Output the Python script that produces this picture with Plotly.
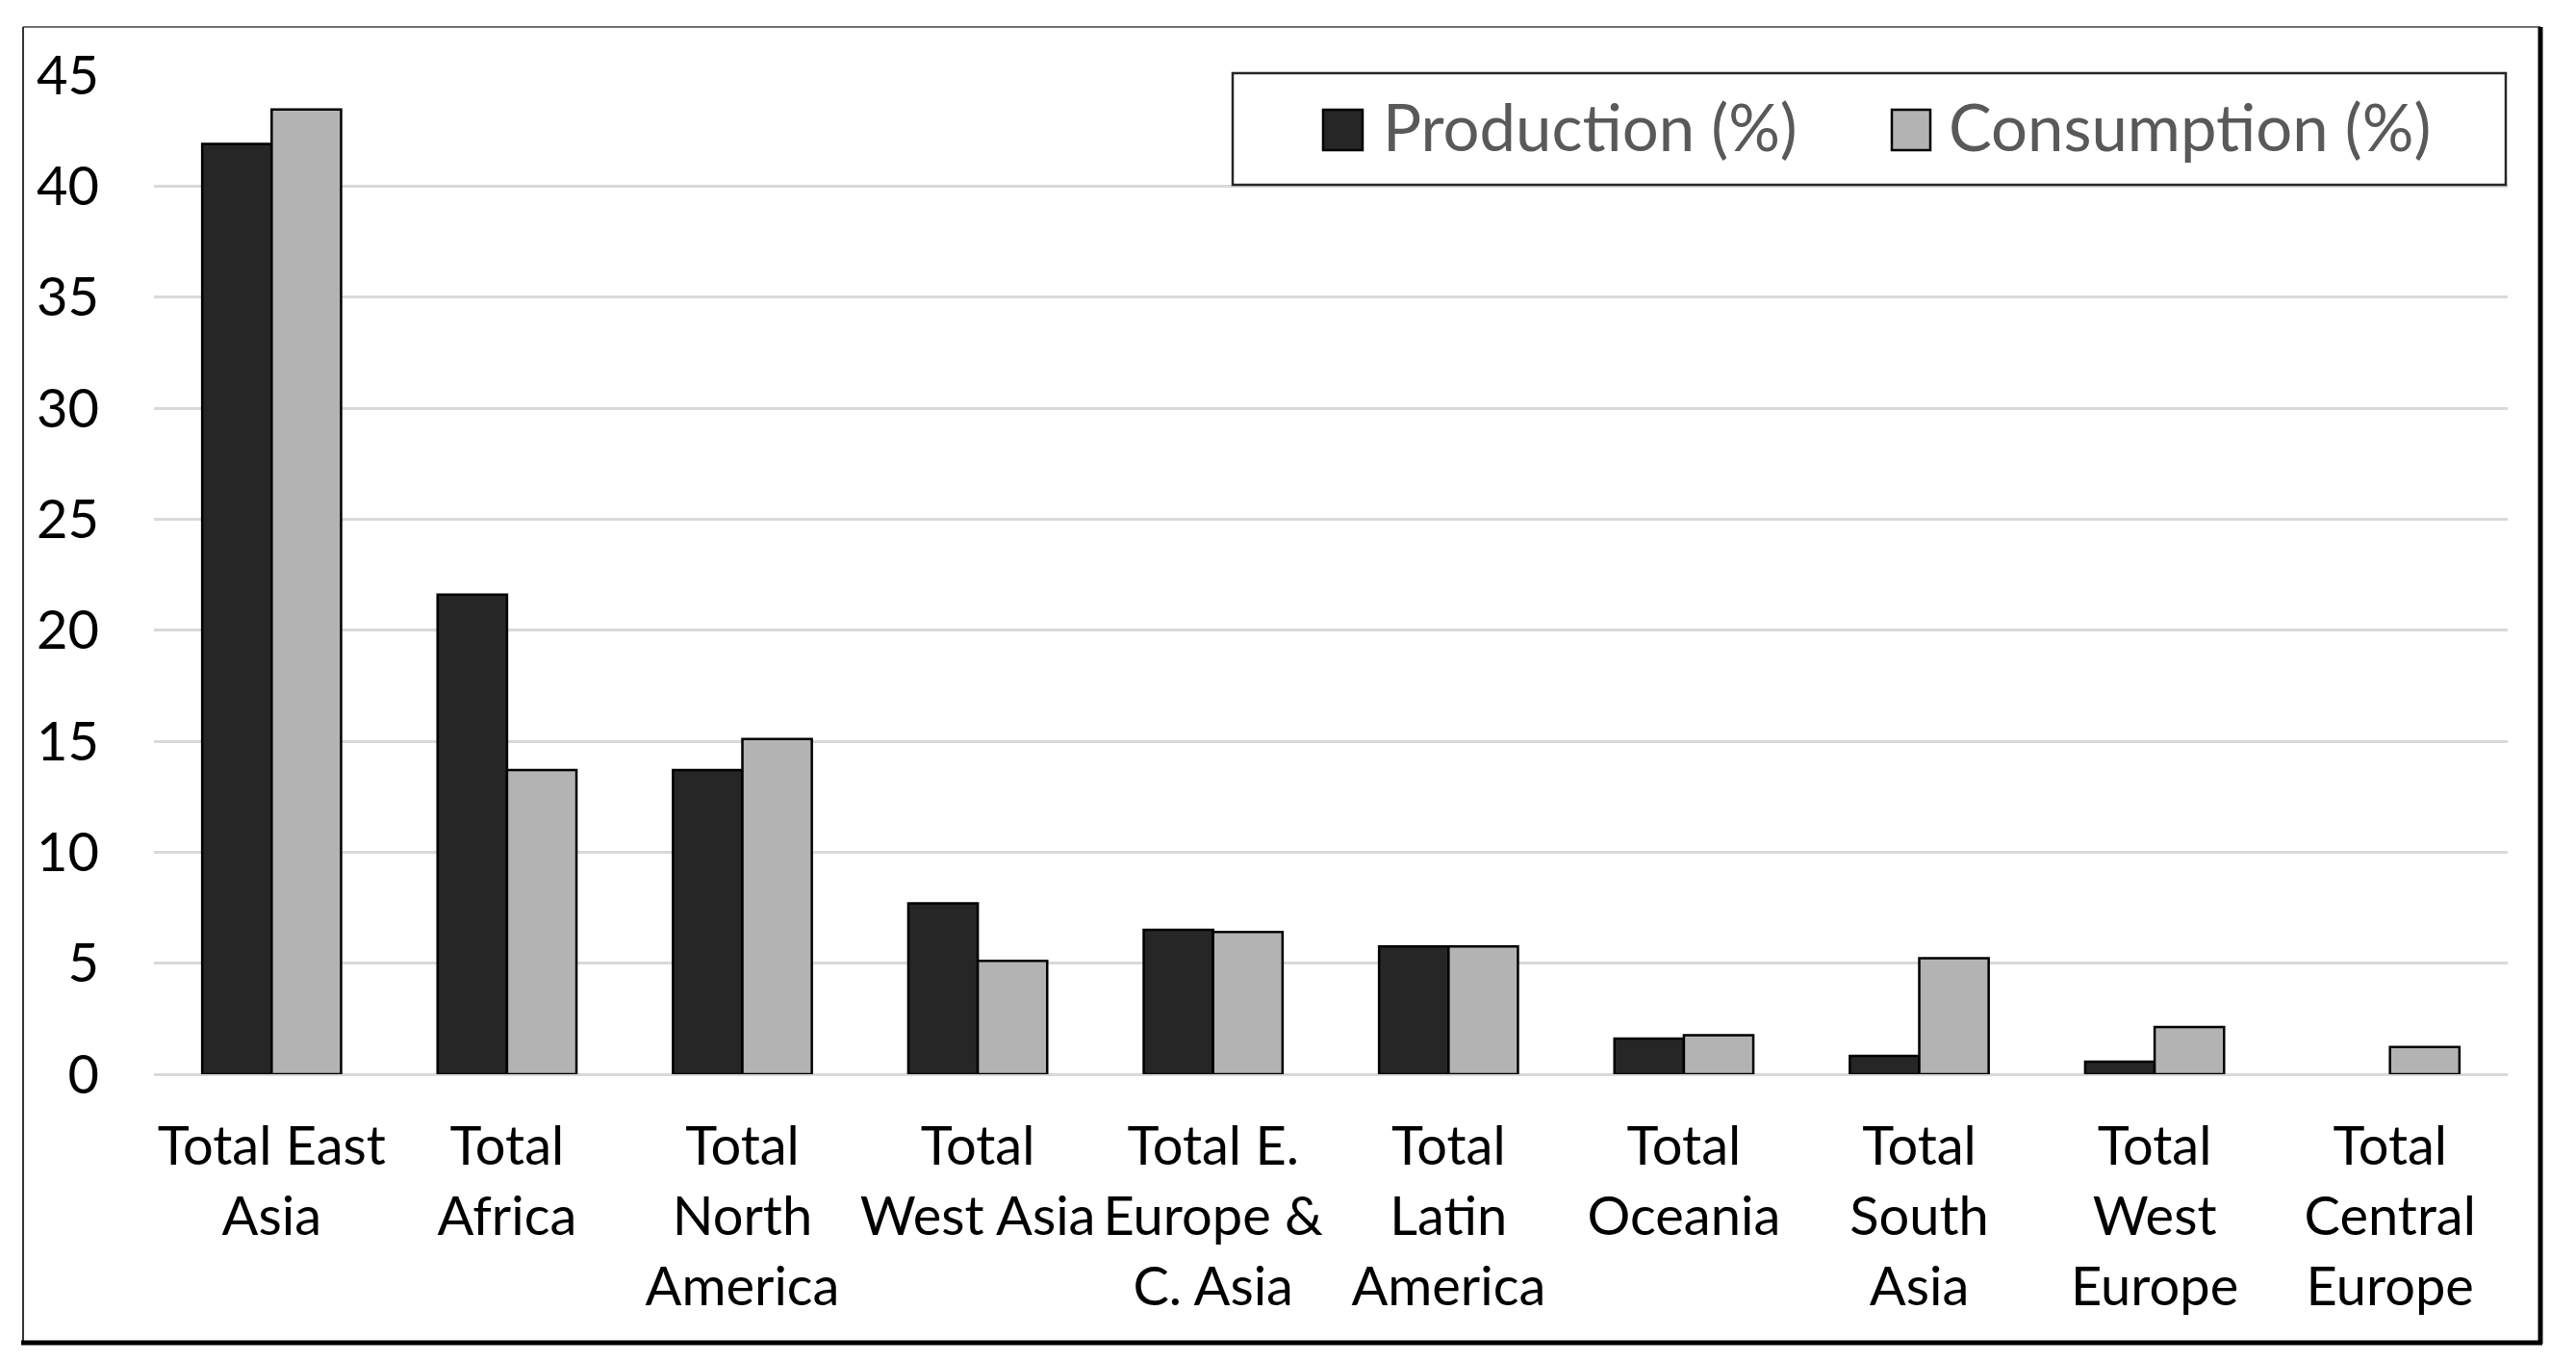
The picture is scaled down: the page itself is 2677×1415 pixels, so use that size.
import plotly.graph_objects as go

categories = [
    "Total East<br>Asia", "Total<br>Africa", "Total<br>North<br>America",
    "Total<br>West Asia", "Total E.<br>Europe &<br>C. Asia", "Total<br>Latin<br>America",
    "Total<br>Oceania", "Total<br>South<br>Asia", "Total<br>West<br>Europe",
    "Total<br>Central<br>Europe",
]
production = [41.9, 21.6, 13.7, 7.7, 6.5, 5.75, 1.6, 0.82, 0.56, 0.0]
consumption = [43.45, 13.7, 15.1, 5.1, 6.4, 5.75, 1.76, 5.22, 2.12, 1.23]
series_names = ["Production (%)", "Consumption (%)"]
y_ticks = [0, 5, 10, 15, 20, 25, 30, 35, 40, 45]

# page has an 8px body margin; work in page pixels and convert
OFF = 8
W, H = 2677 - 2 * OFF, 1415 - 2 * OFF
PL, PR, PT, PB = 160, 2606, 78, 1116          # plot area in page pixels
ML, MT = PL - OFF, PT - OFF
MR, MB = W - (PR - OFF), H - (PB - OFF)
PW, PH = PR - PL, PB - PT


def px(x):
    return (x - PL) / PW


def py(y):
    return (PB - y) / PH


FONT = "Lato"
prod_line = [0 if v == 0 else 2.5 for v in production]
cons_line = [0 if v == 0 else 2.5 for v in consumption]

fig = go.Figure()
fig.add_trace(go.Bar(x=categories, y=production, name=series_names[0],
                     marker=dict(color="#262626", line=dict(color="#000000", width=prod_line))))
fig.add_trace(go.Bar(x=categories, y=consumption, name=series_names[1],
                     marker=dict(color="#b3b3b3", line=dict(color="#000000", width=cons_line))))

shapes = [
    # outer frame
    dict(type="line", xref="paper", yref="paper", x0=px(24), x1=px(2640), y0=py(28), y1=py(28),
         line=dict(color="#6e6e6e", width=2)),
    dict(type="line", xref="paper", yref="paper", x0=px(24), x1=px(24), y0=py(28), y1=py(1395),
         line=dict(color="#333333", width=2)),
    dict(type="line", xref="paper", yref="paper", x0=px(2640), x1=px(2640), y0=py(28), y1=py(1396),
         line=dict(color="#000000", width=5)),
    dict(type="line", xref="paper", yref="paper", x0=px(22), x1=px(2642), y0=py(1395), y1=py(1395),
         line=dict(color="#000000", width=5)),
    # legend box
    dict(type="rect", xref="paper", yref="paper", x0=px(1281), x1=px(2604), y0=py(76), y1=py(192),
         line=dict(color="#262626", width=2.5), fillcolor="#ffffff"),
    dict(type="rect", xref="paper", yref="paper", x0=px(1375), x1=px(1416), y0=py(114), y1=py(156),
         line=dict(color="#000000", width=2.5), fillcolor="#262626"),
    dict(type="rect", xref="paper", yref="paper", x0=px(1966), x1=px(2006), y0=py(114), y1=py(156),
         line=dict(color="#000000", width=2.5), fillcolor="#b3b3b3"),
]
annotations = [
    dict(xref="paper", yref="paper", x=px(1435), y=py(131), text=series_names[0], showarrow=False,
         xanchor="left", yanchor="middle", font=dict(family=FONT, size=67, color="#595959")),
    dict(xref="paper", yref="paper", x=px(2023), y=py(131), text=series_names[1], showarrow=False,
         xanchor="left", yanchor="middle", font=dict(family=FONT, size=67, color="#595959")),
]

fig.update_layout(
    width=W, height=H,
    margin=dict(l=ML, r=MR, t=MT, b=MB, pad=0),
    paper_bgcolor="#ffffff", plot_bgcolor="#ffffff",
    barmode="group", bargap=0.41, bargroupgap=0.0,
    showlegend=False,
    font=dict(family=FONT, size=56, color="#000000"),
    shapes=shapes, annotations=annotations,
    xaxis=dict(showgrid=False, showline=False, zeroline=False, ticks="",
               tickfont=dict(family=FONT, size=56, color="#000000"),
               ticklabelstandoff=37, tickangle=0),
    yaxis=dict(range=[0, 45], tickvals=y_ticks, showgrid=True, gridcolor="#d9d9d9", gridwidth=3,
               zeroline=True, zerolinecolor="#d9d9d9", zerolinewidth=3, showline=False, ticks="",
               tickfont=dict(family=FONT, size=56, color="#000000"), ticklabelstandoff=56),
)
fig.write_html("out.html")
